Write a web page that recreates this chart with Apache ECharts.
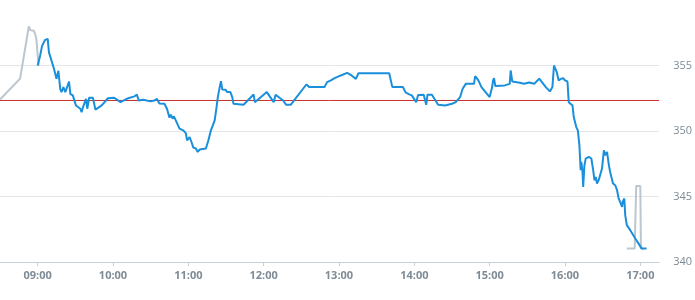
<!DOCTYPE html>
<html>
<head>
<meta charset="utf-8">
<script src="https://cdn.jsdelivr.net/npm/echarts@6/dist/echarts.min.js"></script>
<style>
html,body{margin:0;padding:0;background:#fff;}
#chart{width:695px;height:300px;}
</style>
</head>
<body>
<div id="chart"></div>
<script>
var DAY = '2024-01-02 ';

// Main intraday series (blue)
var blueTimes = ['09:00','09:02','09:03:30','09:06','09:08','09:09','09:10:30','09:13','09:15','09:16:30',
'09:18','09:19','09:20:30','09:22','09:25','09:26','09:28','09:30:30','09:34','09:35',
'09:36','09:38:30','09:39:30','09:41','09:44','09:46','09:51','09:56','10:01','10:06',
'10:11','10:17','10:19','10:20:30','10:24','10:30','10:33','10:35','10:37','10:41',
'10:43','10:45','10:46','10:47:30','10:48:30','10:50','10:53','10:56','10:58','10:59',
'11:01','11:02:30','11:04','11:06','11:07:30','11:09','11:14','11:16','11:18','11:21',
'11:22:30','11:23:30','11:25','11:26','11:27','11:29:30','11:31','11:33:30','11:35','11:36',
'11:44','11:52','11:53','12:02:30','12:08','12:09:30','12:15:30','12:18','12:21:30','12:34',
'12:36:30','12:48:30','12:50:30','12:51:30','12:53:30','12:56:30','13:01:30','13:06:30','13:10','13:13:30',
'13:15:30','13:40','13:42:30','13:51','13:53','13:56','13:58','14:01:30','14:03','14:07:30',
'14:09:30','14:10:30','14:14','14:19','14:24:30','14:30','14:33','14:36:30','14:38:30','14:41',
'14:47:30','14:48:30','14:51','14:53:30','15:00','15:02','15:02:45','15:03:30','15:04:30','15:12',
'15:16','15:16:45','15:18','15:24','15:25:30','15:27:30','15:31:30','15:35:30','15:39:30','15:41',
'15:44:45','15:48','15:50','15:51:15','15:53:30','15:55','15:57','15:58:45','16:00','16:02',
'16:03','16:04:30','16:06','16:07','16:09','16:10:15','16:11:30','16:12:30','16:13','16:14',
'16:14:30','16:15:30','16:16:30','16:19','16:21','16:22:30','16:23:30','16:24:30','16:25:30','16:27',
'16:28','16:29:30','16:31','16:32','16:33:30','16:35','16:36','16:37:30','16:38:15','16:40',
'16:41:30','16:42:45','16:44','16:45:30','16:46','16:47:15','16:48','16:49:15','16:52','16:56',
'16:58:30','17:01','17:05'];
var blueValues = [355.0,355.76,356.5,356.96,357.03,356.0,355.9,354.75,353.98,354.6,
353.2,352.97,353.35,352.97,353.78,352.84,352.72,351.95,351.7,351.44,
351.78,352.46,351.7,352.54,352.54,351.63,351.95,352.5,352.54,352.2,
352.46,352.64,352.79,352.33,352.39,352.26,352.33,352.45,352.1,352.08,
351.7,351.02,351.25,350.94,351.12,350.81,350.18,350.05,349.84,349.29,
349.54,349.16,348.73,348.66,348.4,348.58,348.66,349.29,350.05,350.81,
351.82,352.59,353.35,353.8,353.17,353.15,352.97,352.97,352.59,352.08,
352.0,352.79,352.2,352.97,352.2,352.77,352.33,352.0,352.0,353.55,
353.35,353.35,353.73,353.6,353.86,354.03,354.24,354.44,354.24,353.98,
354.41,354.41,353.35,353.35,352.95,352.8,352.72,352.2,352.75,352.77,
352.0,352.77,352.77,352.0,351.95,352.08,352.2,352.59,353.23,353.6,
353.6,354.19,353.86,353.35,352.59,353.35,353.86,354.03,353.43,353.48,
353.6,354.62,353.78,353.68,353.78,353.6,353.7,353.6,353.99,353.86,
353.35,353.02,353.35,355.0,354.49,353.86,353.99,354.03,353.86,353.78,
352.2,352.2,351.95,351.06,350.3,350.05,348.9,347.0,347.64,346.87,
345.73,347.38,347.89,348.02,347.9,347.0,346.24,346.5,345.99,346.3,
346.32,347.13,348.53,348.15,348.4,347.38,346.87,346.75,345.99,345.86,
345.48,344.85,344.72,344.21,344.6,344.85,343.58,342.81,342.43,341.8,
341.42,341.04,341.04];

// Out-of-session series (gray): pre-open and post-close
var grayTimes = ['08:30','08:46','08:53','08:54','08:57','08:58','08:59','09:00','09:00:45',null,
'16:49:15','16:55:30','16:56:45','17:00','17:00:30','17:02:30'];
var grayValues = [352.4,354.0,358.0,357.7,357.65,357.4,357.0,357.0,354.95,null,
341.04,341.04,345.8,345.8,341.04,341.04];

var refLevel = 352.33;
var yTicks = [340, 345, 350, 355, 360];
var axisStart = '08:30';
var axisEnd = '17:15';

function ts(t){
  if (t.length === 5) t += ':00';
  return DAY + t;
}
var blueData = blueTimes.map(function(t, i){ return [ts(t), blueValues[i]]; });
var grayData = grayTimes.map(function(t, i){
  if (t === null) return ['-', '-'];
  return [ts(t), grayValues[i]];
});
var refData = [[ts(axisStart), refLevel], [ts(axisEnd), refLevel]];

var gridColors = yTicks.map(function(v, i){
  return i === yTicks.length - 1 ? 'rgba(0,0,0,0)' : '#e3e6e9';
});

var chart = echarts.init(document.getElementById('chart'));
chart.setOption({
  animation: false,
  grid: {left: 0, right: 32, top: 0, bottom: 38, containLabel: false},
  xAxis: {
    type: 'time',
    min: ts(axisStart),
    max: ts(axisEnd),
    minInterval: 3600000,
    maxInterval: 3600000,
    axisLine: {show: true, lineStyle: {color: '#c9d0d8', width: 1}},
    axisTick: {show: true, length: 4, lineStyle: {color: '#c9d0d8'}},
    splitLine: {show: false},
    axisLabel: {
      formatter: '{HH}:{mm}',
      color: '#7f8b96',
      fontFamily: 'Open Sans',
      fontSize: 11,
      fontWeight: 'bold',
      margin: 8,
      hideOverlap: false
    }
  },
  yAxis: {
    type: 'value',
    position: 'right',
    min: yTicks[0],
    max: yTicks[yTicks.length - 1],
    interval: 5,
    axisLine: {show: false},
    axisTick: {show: false},
    splitLine: {show: true, lineStyle: {color: gridColors, width: 1}},
    axisLabel: {
      showMaxLabel: false,
      color: '#7f8b96',
      fontFamily: 'Open Sans',
      fontSize: 11,
      margin: 14
    }
  },
  series: [
    {
      type: 'line',
      data: refData,
      showSymbol: false,
      silent: true,
      lineStyle: {color: '#c8302c', width: 1},
      itemStyle: {color: '#c8302c'},
      z: 1
    },
    {
      type: 'line',
      data: grayData,
      showSymbol: false,
      connectNulls: false,
      lineStyle: {color: '#bcc6ce', width: 2},
      itemStyle: {color: '#bcc6ce'},
      z: 2
    },
    {
      type: 'line',
      data: blueData,
      showSymbol: false,
      lineStyle: {color: '#1a8fdb', width: 2},
      itemStyle: {color: '#1a8fdb'},
      z: 3
    }
  ]
});
</script>
</body>
</html>
